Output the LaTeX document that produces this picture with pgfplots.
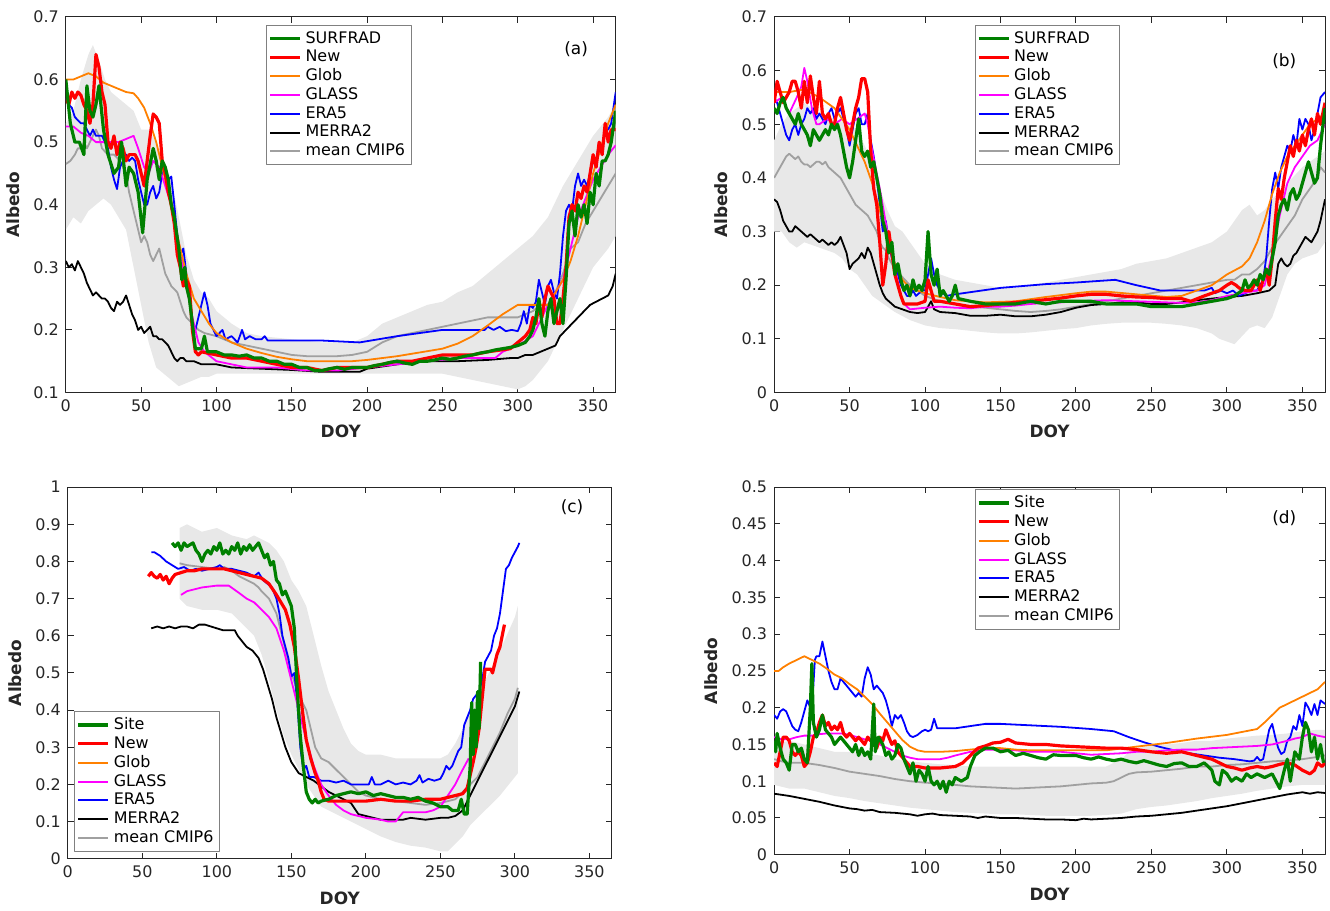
\documentclass[border=0pt]{standalone}
\usepackage{fontspec}
\setmainfont{DejaVu Sans}
\usepackage{pgfplots}
\pgfplotsset{compat=1.18}

\definecolor{cSite}{HTML}{008000}
\definecolor{cNew}{HTML}{FF0000}
\definecolor{cGlob}{HTML}{FF8000}
\definecolor{cGlass}{HTML}{FF00FF}
\definecolor{cEra}{HTML}{0000FF}
\definecolor{cMerra}{HTML}{000000}
\definecolor{cCmip}{HTML}{A0A0A0}
\definecolor{cBand}{HTML}{E8E8E8}
\definecolor{axcol}{HTML}{262626}

% one legend row: colour, line width, text
\newcommand{\legline}[3]{%
  \addlegendimage{legend image code/.code={\draw[color=#1, line width=#2] (0pt,0pt) -- (15pt,0pt);}}%
  \addlegendentry{#3}}
\newcommand{\legall}[1]{%
  \legline{cSite}{1.6pt}{#1}
  \legline{cNew}{1.6pt}{New}
  \legline{cGlob}{1pt}{Glob}
  \legline{cGlass}{1pt}{GLASS}
  \legline{cEra}{1pt}{ERA5}
  \legline{cMerra}{1pt}{MERRA2}
  \legline{cCmip}{1pt}{mean CMIP6}}

\pgfplotsset{
  pSite/.style={color=cSite, line width=1.6pt},
  pNew/.style={color=cNew, line width=1.6pt},
  pGlob/.style={color=cGlob, line width=0.9pt},
  pGlass/.style={color=cGlass, line width=0.9pt},
  pEra/.style={color=cEra, line width=0.9pt},
  pMerra/.style={color=cMerra, line width=0.9pt},
  pCmip/.style={color=cCmip, line width=0.9pt},
  band/.style={fill=cBand, draw=none, forget plot},
  albedo/.style={
    scale only axis,
    xmin=0, xmax=365,
    xtick={0,50,100,150,200,250,300,350},
    xticklabels={0,50,100,150,200,250,300,350},
    scaled ticks=false,
    tick align=inside,
    major tick length=3pt,
    xlabel={DOY}, ylabel={Albedo},
    axis line style={color=axcol, line width=0.5pt},
    tick style={color=axcol, line width=0.5pt},
    ticklabel style={font=\fontsize{8}{9}\selectfont, color=axcol},
    label style={font=\bfseries\fontsize{8.5}{10}\selectfont, color=axcol},
    legend cell align=left,
    legend style={font=\fontsize{8}{9}\selectfont, draw=gray, fill=white,
      line width=0.5pt, inner sep=1pt, row sep=-2pt},
    no markers, line join=round,
  },
}

\begin{document}
\begin{tikzpicture}

% ---------------- (a)
\begin{axis}[albedo, at={(30.5pt,257pt)}, anchor=south west,
  width=276pt, height=188.5pt, ymin=0.1, ymax=0.7,
  ytick={0.1,0.2,0.3,0.4,0.5,0.6,0.7},
  yticklabels={0.1,0.2,0.3,0.4,0.5,0.6,0.7},
  legend style={at={(rel axis cs:0.364,0.979)}, anchor=north west}]
\legall{SURFRAD}
\addplot[band] coordinates {(0,0.53)(5,0.55)(10,0.60)(15,0.64)(18,0.655)(22,0.63)(26,0.60)(30,0.58)(40,0.56)(45,0.55)(50,0.52)(55,0.52)(60,0.50)(65,0.47)(70,0.44)(75,0.38)(80,0.32)(85,0.28)(90,0.26)(95,0.25)(100,0.23)(110,0.21)(120,0.195)(130,0.19)(150,0.185)(170,0.18)(190,0.18)(200,0.19)(210,0.21)(220,0.22)(230,0.23)(240,0.24)(250,0.245)(260,0.26)(270,0.27)(280,0.29)(290,0.31)(300,0.33)(310,0.35)(320,0.38)(330,0.43)(340,0.47)(350,0.51)(360,0.54)(365,0.56)
 (365,0.35)(360,0.33)(350,0.30)(340,0.25)(330,0.20)(320,0.15)(310,0.12)(305,0.11)(300,0.105)(290,0.11)(280,0.115)(270,0.12)(250,0.13)(210,0.13)(170,0.13)(130,0.13)(100,0.13)(95,0.125)(90,0.125)(85,0.12)(80,0.115)(75,0.11)(70,0.12)(65,0.13)(60,0.14)(55,0.18)(50,0.24)(45,0.30)(40,0.36)(35,0.38)(30,0.40)(25,0.41)(20,0.40)(15,0.39)(10,0.37)(5,0.38)(0,0.36)} -- cycle;
\addplot[pCmip, forget plot] coordinates {(0,0.465)(3,0.47)(6,0.48)(8,0.49)(10,0.49)(12,0.50)(14,0.49)(16,0.50)(18,0.51)(20,0.52)(22,0.51)(24,0.49)(28,0.48)(32,0.48)(36,0.47)(40,0.45)(42,0.42)(44,0.40)(46,0.38)(48,0.36)(50,0.34)(52,0.35)(54,0.34)(56,0.32)(58,0.31)(60,0.32)(62,0.33)(64,0.31)(66,0.29)(68,0.28)(70,0.27)(74,0.26)(76,0.245)(78,0.23)(80,0.22)(84,0.21)(88,0.20)(92,0.195)(100,0.19)(110,0.18)(120,0.175)(130,0.17)(140,0.165)(150,0.16)(160,0.158)(170,0.158)(180,0.158)(190,0.16)(200,0.165)(210,0.18)(220,0.19)(230,0.195)(240,0.20)(250,0.205)(260,0.21)(270,0.215)(280,0.22)(290,0.22)(300,0.22)(305,0.225)(310,0.23)(315,0.24)(320,0.24)(325,0.26)(330,0.29)(335,0.33)(340,0.34)(345,0.37)(350,0.39)(355,0.41)(360,0.43)(365,0.45)};
\addplot[pMerra, forget plot] coordinates {(0,0.31)(2,0.30)(4,0.305)(6,0.295)(8,0.31)(10,0.30)(12,0.29)(14,0.275)(16,0.265)(18,0.255)(20,0.26)(22,0.255)(24,0.25)(26,0.25)(28,0.245)(30,0.235)(32,0.23)(34,0.245)(36,0.24)(38,0.245)(40,0.255)(42,0.24)(44,0.225)(46,0.215)(48,0.20)(50,0.205)(52,0.195)(54,0.20)(56,0.205)(58,0.19)(60,0.19)(62,0.185)(64,0.185)(66,0.18)(68,0.175)(70,0.165)(72,0.155)(74,0.15)(76,0.155)(78,0.155)(80,0.15)(85,0.15)(90,0.145)(100,0.145)(110,0.14)(130,0.138)(150,0.136)(170,0.133)(195,0.133)(200,0.138)(220,0.145)(240,0.15)(260,0.15)(280,0.152)(295,0.155)(300,0.155)(305,0.16)(310,0.16)(315,0.165)(320,0.17)(325,0.175)(328,0.19)(332,0.20)(336,0.21)(340,0.22)(344,0.23)(348,0.24)(352,0.245)(356,0.25)(360,0.255)(363,0.27)(365,0.29)};
\addplot[pEra, forget plot] coordinates {(0,0.57)(2,0.56)(4,0.555)(6,0.54)(8,0.535)(10,0.53)(12,0.53)(14,0.52)(16,0.51)(18,0.52)(20,0.51)(22,0.51)(24,0.51)(26,0.50)(28,0.49)(30,0.46)(32,0.44)(34,0.425)(36,0.46)(38,0.47)(40,0.48)(42,0.47)(44,0.475)(46,0.47)(48,0.44)(50,0.42)(52,0.40)(54,0.40)(56,0.42)(58,0.43)(60,0.41)(62,0.42)(64,0.45)(66,0.46)(68,0.44)(70,0.445)(72,0.40)(74,0.35)(76,0.32)(78,0.33)(80,0.29)(82,0.26)(84,0.21)(86,0.20)(88,0.22)(90,0.24)(92,0.26)(94,0.24)(96,0.21)(98,0.20)(100,0.19)(104,0.20)(106,0.185)(110,0.19)(114,0.18)(117,0.20)(119,0.185)(122,0.19)(126,0.185)(130,0.185)(132,0.19)(134,0.183)(150,0.183)(170,0.183)(195,0.18)(220,0.19)(250,0.20)(260,0.20)(278,0.20)(280,0.205)(284,0.20)(288,0.205)(292,0.198)(296,0.20)(300,0.198)(302,0.21)(304,0.23)(306,0.21)(308,0.24)(310,0.235)(312,0.245)(314,0.28)(316,0.26)(318,0.24)(320,0.27)(322,0.28)(324,0.26)(326,0.25)(328,0.29)(330,0.35)(332,0.39)(334,0.40)(336,0.39)(338,0.43)(340,0.45)(342,0.43)(344,0.44)(346,0.43)(348,0.45)(350,0.47)(352,0.47)(354,0.50)(356,0.49)(358,0.52)(360,0.52)(362,0.53)(365,0.58)};
\addplot[pGlass, forget plot] coordinates {(0,0.525)(5,0.525)(10,0.515)(15,0.51)(20,0.50)(25,0.50)(30,0.50)(35,0.50)(40,0.505)(45,0.51)(48,0.49)(52,0.46)(55,0.45)(58,0.47)(62,0.46)(66,0.43)(70,0.40)(75,0.34)(80,0.27)(84,0.22)(88,0.18)(92,0.165)(100,0.15)(110,0.145)(120,0.14)(140,0.14)(160,0.135)(180,0.135)(200,0.14)(220,0.145)(240,0.15)(260,0.155)(285,0.155)(290,0.165)(300,0.175)(310,0.19)(320,0.24)(330,0.28)(335,0.33)(340,0.38)(345,0.41)(350,0.44)(355,0.46)(360,0.48)(365,0.495)};
\addplot[pGlob, forget plot] coordinates {(0,0.60)(5,0.60)(10,0.605)(15,0.61)(20,0.605)(25,0.595)(30,0.59)(35,0.585)(40,0.58)(45,0.578)(48,0.57)(52,0.555)(56,0.53)(60,0.50)(64,0.46)(68,0.42)(72,0.37)(76,0.33)(80,0.29)(85,0.25)(90,0.23)(95,0.21)(100,0.195)(110,0.18)(120,0.17)(130,0.163)(140,0.157)(150,0.153)(160,0.15)(190,0.15)(200,0.152)(210,0.155)(220,0.158)(230,0.162)(240,0.166)(250,0.17)(260,0.178)(270,0.19)(280,0.207)(290,0.225)(300,0.24)(320,0.24)(325,0.26)(330,0.28)(335,0.31)(340,0.35)(345,0.40)(350,0.45)(355,0.49)(360,0.53)(365,0.56)};
\addplot[pNew, forget plot] coordinates {(0,0.57)(2,0.56)(4,0.58)(6,0.57)(8,0.58)(10,0.575)(12,0.56)(14,0.55)(16,0.53)(18,0.56)(20,0.64)(22,0.62)(24,0.58)(26,0.56)(28,0.50)(30,0.49)(32,0.51)(34,0.48)(36,0.50)(38,0.49)(40,0.47)(42,0.48)(44,0.48)(46,0.48)(48,0.47)(50,0.45)(52,0.43)(54,0.47)(56,0.51)(58,0.545)(60,0.54)(62,0.53)(64,0.47)(66,0.45)(68,0.42)(70,0.40)(72,0.37)(74,0.32)(76,0.30)(78,0.27)(80,0.28)(82,0.27)(84,0.20)(86,0.165)(88,0.16)(90,0.165)(100,0.16)(110,0.155)(120,0.155)(130,0.15)(140,0.145)(150,0.14)(160,0.14)(170,0.135)(180,0.14)(200,0.14)(210,0.145)(220,0.15)(230,0.15)(240,0.155)(250,0.16)(270,0.16)(280,0.165)(295,0.17)(300,0.18)(305,0.19)(308,0.20)(310,0.22)(312,0.21)(314,0.24)(316,0.22)(318,0.25)(320,0.27)(322,0.26)(324,0.25)(326,0.21)(328,0.21)(330,0.25)(332,0.30)(334,0.38)(336,0.40)(338,0.39)(340,0.42)(342,0.41)(344,0.43)(346,0.42)(348,0.45)(350,0.48)(352,0.46)(354,0.50)(356,0.48)(358,0.53)(360,0.50)(362,0.52)(365,0.52)};
\addplot[pSite, forget plot] coordinates {(0,0.60)(3,0.53)(6,0.50)(9,0.50)(12,0.48)(14,0.59)(16,0.55)(18,0.54)(20,0.56)(22,0.59)(25,0.52)(28,0.48)(32,0.45)(35,0.46)(37,0.50)(40,0.43)(42,0.46)(45,0.45)(48,0.42)(51,0.355)(54,0.44)(58,0.49)(60,0.47)(62,0.44)(64,0.47)(66,0.46)(68,0.44)(70,0.40)(72,0.38)(75,0.33)(77,0.28)(79,0.30)(80,0.27)(82,0.25)(84,0.21)(86,0.17)(88,0.17)(90,0.17)(92,0.19)(94,0.165)(100,0.165)(105,0.16)(110,0.16)(115,0.158)(120,0.16)(125,0.155)(130,0.155)(135,0.15)(140,0.15)(145,0.145)(150,0.145)(155,0.14)(160,0.14)(165,0.135)(170,0.135)(175,0.138)(180,0.14)(185,0.137)(190,0.14)(200,0.14)(205,0.143)(210,0.145)(215,0.148)(220,0.15)(225,0.147)(230,0.145)(235,0.15)(240,0.15)(245,0.152)(250,0.155)(255,0.153)(260,0.155)(265,0.158)(270,0.16)(275,0.163)(280,0.165)(285,0.168)(290,0.17)(295,0.172)(300,0.175)(305,0.18)(308,0.19)(310,0.20)(312,0.22)(314,0.25)(316,0.21)(318,0.19)(320,0.23)(322,0.25)(324,0.21)(326,0.23)(328,0.25)(330,0.21)(332,0.28)(334,0.37)(336,0.39)(338,0.35)(340,0.40)(342,0.38)(344,0.40)(346,0.37)(348,0.42)(350,0.40)(352,0.45)(354,0.43)(356,0.47)(358,0.47)(360,0.48)(362,0.50)(365,0.55)};
\node[font=\fontsize{8.5}{10}\selectfont] at (rel axis cs:0.928,0.915) {(a)};
\end{axis}

% ---------------- (b)
\begin{axis}[albedo, at={(386pt,257pt)}, anchor=south west,
  width=276.5pt, height=188.5pt, ymin=0, ymax=0.7,
  ytick={0,0.1,0.2,0.3,0.4,0.5,0.6,0.7},
  yticklabels={0,0.1,0.2,0.3,0.4,0.5,0.6,0.7},
  legend style={at={(rel axis cs:0.364,0.979)}, anchor=north west}]
\legall{SURFRAD}
\addplot[band] coordinates {(0,0.47)(5,0.50)(10,0.52)(15,0.53)(20,0.54)(30,0.52)(40,0.51)(50,0.50)(55,0.49)(60,0.46)(65,0.43)(70,0.38)(75,0.34)(80,0.31)(85,0.30)(90,0.28)(95,0.26)(100,0.24)(110,0.22)(120,0.21)(130,0.205)(140,0.20)(150,0.195)(160,0.195)(170,0.20)(180,0.205)(190,0.21)(200,0.215)(210,0.22)(220,0.225)(230,0.23)(240,0.24)(250,0.245)(260,0.25)(270,0.26)(280,0.27)(290,0.28)(300,0.30)(305,0.32)(310,0.34)(315,0.35)(320,0.33)(325,0.34)(330,0.36)(340,0.39)(350,0.42)(360,0.44)(365,0.45)
 (365,0.28)(360,0.26)(350,0.25)(345,0.24)(340,0.22)(335,0.18)(330,0.14)(325,0.12)(320,0.125)(315,0.12)(310,0.105)(305,0.09)(300,0.095)(295,0.10)(290,0.11)(280,0.12)(270,0.125)(260,0.128)(250,0.13)(230,0.13)(220,0.128)(210,0.125)(200,0.12)(190,0.118)(180,0.115)(170,0.112)(160,0.11)(150,0.11)(140,0.112)(130,0.115)(120,0.118)(110,0.12)(100,0.125)(90,0.135)(80,0.15)(75,0.16)(70,0.17)(65,0.18)(60,0.20)(55,0.22)(50,0.23)(45,0.25)(40,0.26)(30,0.27)(20,0.28)(15,0.27)(10,0.28)(5,0.30)(0,0.30)} -- cycle;
\addplot[pCmip, forget plot] coordinates {(0,0.40)(2,0.41)(4,0.42)(6,0.43)(8,0.44)(10,0.445)(12,0.44)(14,0.435)(16,0.44)(18,0.43)(20,0.425)(22,0.425)(24,0.42)(26,0.425)(28,0.43)(30,0.43)(32,0.425)(34,0.43)(36,0.42)(38,0.415)(40,0.41)(42,0.405)(44,0.40)(46,0.39)(48,0.38)(50,0.37)(52,0.36)(54,0.35)(56,0.345)(58,0.34)(60,0.335)(62,0.33)(64,0.32)(66,0.31)(68,0.30)(70,0.28)(72,0.27)(74,0.265)(76,0.25)(78,0.24)(80,0.23)(85,0.215)(90,0.20)(95,0.19)(100,0.18)(110,0.17)(120,0.165)(130,0.16)(140,0.158)(150,0.155)(160,0.152)(170,0.15)(180,0.152)(190,0.155)(200,0.16)(210,0.165)(220,0.17)(230,0.175)(240,0.18)(250,0.185)(260,0.19)(270,0.195)(280,0.20)(290,0.205)(300,0.21)(305,0.21)(310,0.22)(315,0.22)(320,0.23)(325,0.245)(330,0.27)(335,0.29)(340,0.31)(345,0.33)(350,0.36)(355,0.38)(360,0.40)(362,0.42)(365,0.41)};
\addplot[pMerra, forget plot] coordinates {(0,0.36)(2,0.355)(4,0.34)(6,0.32)(8,0.31)(10,0.30)(12,0.30)(14,0.31)(16,0.305)(18,0.30)(20,0.295)(22,0.29)(24,0.295)(26,0.29)(28,0.285)(30,0.28)(32,0.285)(34,0.28)(36,0.275)(38,0.28)(40,0.275)(42,0.28)(44,0.29)(46,0.275)(48,0.26)(50,0.23)(52,0.24)(54,0.245)(56,0.25)(58,0.26)(60,0.25)(62,0.27)(64,0.26)(66,0.24)(68,0.22)(70,0.20)(72,0.185)(74,0.175)(76,0.17)(78,0.165)(80,0.16)(85,0.155)(90,0.15)(95,0.148)(100,0.15)(102,0.16)(104,0.17)(106,0.155)(110,0.15)(120,0.148)(130,0.143)(140,0.143)(150,0.145)(160,0.142)(170,0.142)(180,0.145)(190,0.15)(200,0.158)(210,0.163)(220,0.165)(230,0.168)(240,0.168)(250,0.165)(260,0.165)(270,0.168)(280,0.172)(290,0.175)(300,0.178)(310,0.18)(320,0.185)(328,0.19)(332,0.20)(334,0.24)(336,0.25)(338,0.24)(340,0.235)(342,0.24)(344,0.255)(346,0.26)(348,0.27)(350,0.28)(352,0.29)(354,0.285)(356,0.28)(358,0.29)(360,0.30)(362,0.32)(365,0.36)};
\addplot[pEra, forget plot] coordinates {(0,0.55)(2,0.54)(4,0.52)(6,0.50)(8,0.48)(10,0.47)(12,0.49)(14,0.50)(16,0.48)(18,0.50)(20,0.51)(22,0.53)(24,0.52)(26,0.53)(28,0.51)(30,0.52)(32,0.51)(34,0.50)(36,0.52)(38,0.53)(40,0.51)(42,0.52)(44,0.53)(46,0.51)(48,0.49)(50,0.46)(52,0.49)(54,0.52)(56,0.53)(58,0.50)(60,0.50)(62,0.52)(64,0.47)(66,0.44)(68,0.40)(70,0.35)(72,0.30)(74,0.32)(76,0.28)(78,0.25)(80,0.24)(82,0.22)(84,0.20)(86,0.19)(88,0.18)(90,0.18)(92,0.19)(94,0.18)(96,0.185)(98,0.19)(100,0.19)(102,0.22)(104,0.25)(106,0.22)(108,0.20)(110,0.19)(114,0.18)(120,0.183)(150,0.195)(180,0.202)(200,0.205)(226,0.21)(240,0.20)(256,0.19)(270,0.19)(285,0.19)(290,0.195)(292,0.185)(296,0.19)(300,0.185)(304,0.19)(308,0.18)(312,0.185)(316,0.19)(320,0.19)(324,0.21)(326,0.25)(328,0.32)(330,0.38)(332,0.41)(334,0.38)(336,0.42)(338,0.44)(340,0.46)(342,0.45)(344,0.48)(346,0.46)(348,0.51)(350,0.49)(352,0.51)(354,0.50)(356,0.47)(358,0.49)(360,0.52)(362,0.55)(365,0.56)};
\addplot[pGlass, forget plot] coordinates {(0,0.54)(5,0.55)(10,0.52)(15,0.55)(18,0.57)(20,0.605)(22,0.58)(25,0.53)(28,0.50)(30,0.50)(35,0.51)(40,0.50)(45,0.51)(50,0.50)(55,0.51)(60,0.52)(62,0.50)(65,0.45)(70,0.38)(75,0.30)(80,0.23)(85,0.17)(88,0.16)(90,0.155)(100,0.158)(110,0.16)(120,0.158)(130,0.157)(140,0.16)(150,0.16)(160,0.162)(170,0.165)(180,0.167)(190,0.168)(200,0.17)(220,0.172)(240,0.17)(260,0.168)(270,0.167)(280,0.168)(290,0.172)(300,0.18)(310,0.185)(320,0.19)(325,0.20)(330,0.26)(335,0.33)(340,0.39)(345,0.42)(350,0.44)(355,0.46)(360,0.47)(365,0.50)};
\addplot[pGlob, forget plot] coordinates {(0,0.56)(10,0.56)(20,0.565)(30,0.55)(40,0.53)(45,0.51)(50,0.49)(55,0.46)(60,0.43)(65,0.39)(70,0.34)(75,0.29)(80,0.24)(85,0.21)(90,0.195)(95,0.19)(100,0.185)(110,0.178)(120,0.172)(140,0.168)(160,0.17)(180,0.178)(200,0.185)(210,0.188)(220,0.188)(240,0.183)(260,0.178)(270,0.18)(280,0.19)(290,0.20)(300,0.22)(310,0.235)(315,0.25)(320,0.28)(325,0.32)(330,0.37)(335,0.41)(340,0.44)(345,0.46)(350,0.48)(355,0.50)(360,0.51)(365,0.52)};
\addplot[pNew, forget plot] coordinates {(0,0.54)(2,0.58)(4,0.56)(6,0.54)(8,0.55)(10,0.56)(12,0.58)(14,0.58)(16,0.56)(18,0.53)(20,0.58)(22,0.54)(24,0.59)(26,0.55)(28,0.52)(30,0.58)(32,0.52)(34,0.51)(36,0.52)(38,0.50)(40,0.50)(42,0.53)(44,0.55)(46,0.52)(48,0.49)(50,0.47)(52,0.50)(54,0.53)(56,0.55)(58,0.585)(60,0.585)(62,0.56)(64,0.45)(66,0.38)(68,0.35)(70,0.28)(72,0.20)(74,0.24)(76,0.30)(78,0.26)(80,0.22)(82,0.20)(84,0.18)(86,0.165)(95,0.165)(100,0.17)(102,0.21)(104,0.19)(106,0.17)(110,0.17)(120,0.165)(130,0.16)(140,0.162)(150,0.165)(160,0.168)(170,0.17)(180,0.173)(190,0.176)(200,0.18)(210,0.183)(220,0.183)(230,0.18)(240,0.178)(250,0.177)(260,0.175)(270,0.175)(276,0.17)(285,0.18)(295,0.19)(300,0.20)(303,0.205)(306,0.20)(308,0.195)(312,0.19)(316,0.19)(318,0.20)(320,0.21)(322,0.19)(324,0.21)(326,0.23)(328,0.20)(330,0.25)(332,0.32)(334,0.38)(336,0.36)(338,0.40)(340,0.43)(342,0.46)(344,0.44)(346,0.47)(348,0.45)(350,0.48)(352,0.46)(354,0.49)(356,0.51)(358,0.48)(360,0.52)(362,0.50)(365,0.54)};
\addplot[pSite, forget plot] coordinates {(0,0.53)(2,0.52)(4,0.54)(6,0.55)(8,0.53)(10,0.52)(12,0.51)(14,0.50)(16,0.52)(18,0.50)(20,0.49)(22,0.48)(24,0.46)(26,0.49)(28,0.48)(30,0.47)(32,0.48)(34,0.49)(36,0.48)(38,0.50)(40,0.49)(42,0.50)(44,0.48)(46,0.45)(48,0.42)(50,0.40)(52,0.43)(54,0.47)(56,0.51)(58,0.45)(60,0.44)(62,0.45)(64,0.42)(66,0.43)(68,0.40)(70,0.37)(72,0.32)(74,0.30)(76,0.26)(78,0.28)(80,0.22)(82,0.24)(84,0.21)(86,0.19)(88,0.20)(90,0.18)(92,0.21)(94,0.19)(96,0.20)(98,0.19)(100,0.21)(102,0.30)(104,0.22)(106,0.20)(108,0.23)(110,0.18)(112,0.19)(114,0.18)(116,0.17)(118,0.18)(120,0.20)(122,0.175)(130,0.17)(140,0.165)(150,0.165)(160,0.165)(170,0.17)(180,0.165)(190,0.17)(200,0.17)(210,0.17)(220,0.165)(240,0.165)(250,0.16)(270,0.16)(280,0.165)(290,0.17)(300,0.175)(305,0.18)(310,0.19)(312,0.21)(314,0.195)(316,0.20)(318,0.21)(320,0.20)(322,0.22)(324,0.21)(326,0.23)(328,0.22)(330,0.25)(332,0.28)(334,0.33)(336,0.35)(338,0.36)(340,0.34)(342,0.37)(344,0.38)(346,0.36)(348,0.37)(350,0.39)(352,0.41)(354,0.43)(356,0.41)(358,0.39)(360,0.40)(362,0.46)(365,0.53)};
\node[font=\fontsize{8.5}{10}\selectfont] at (rel axis cs:0.926,0.883) {(b)};
\end{axis}

% ---------------- (c)
\begin{axis}[albedo, at={(31.5pt,23pt)}, anchor=south west,
  width=273pt, height=186.5pt, ymin=0, ymax=1,
  ytick={0,0.1,0.2,0.3,0.4,0.5,0.6,0.7,0.8,0.9,1},
  yticklabels={0,0.1,0.2,0.3,0.4,0.5,0.6,0.7,0.8,0.9,1},
  legend style={at={(rel axis cs:0.012,0.019)}, anchor=south west}]
\legall{Site}
\addplot[band] coordinates {(75,0.89)(80,0.90)(90,0.88)(100,0.89)(110,0.87)(120,0.86)(125,0.87)(130,0.86)(135,0.85)(140,0.83)(145,0.80)(150,0.75)(155,0.72)(160,0.68)(165,0.60)(170,0.52)(175,0.45)(180,0.40)(185,0.35)(190,0.31)(195,0.29)(200,0.28)(210,0.28)(220,0.27)(250,0.27)(255,0.28)(260,0.31)(265,0.35)(270,0.40)(280,0.48)(290,0.56)(300,0.65)(302,0.68)
 (302,0.23)(300,0.22)(290,0.17)(280,0.13)(270,0.09)(265,0.06)(260,0.04)(255,0.02)(250,0.02)(240,0.03)(230,0.035)(220,0.045)(210,0.06)(200,0.08)(190,0.10)(180,0.12)(175,0.13)(170,0.14)(165,0.17)(160,0.20)(155,0.24)(150,0.28)(145,0.33)(140,0.40)(135,0.48)(130,0.55)(125,0.60)(120,0.62)(115,0.64)(110,0.66)(100,0.67)(90,0.67)(80,0.68)(75,0.70)} -- cycle;
\addplot[pCmip, forget plot] coordinates {(75,0.795)(80,0.79)(90,0.785)(100,0.78)(105,0.785)(110,0.775)(115,0.76)(120,0.75)(125,0.74)(128,0.73)(130,0.72)(135,0.70)(140,0.66)(145,0.58)(150,0.50)(155,0.44)(160,0.40)(163,0.35)(166,0.30)(170,0.27)(175,0.26)(180,0.24)(185,0.22)(190,0.20)(195,0.18)(200,0.17)(210,0.16)(220,0.155)(230,0.15)(240,0.145)(250,0.15)(260,0.16)(265,0.18)(270,0.20)(275,0.22)(280,0.26)(285,0.30)(290,0.34)(295,0.39)(300,0.43)(302,0.46)};
\addplot[pMerra, forget plot] coordinates {(56,0.62)(60,0.625)(64,0.62)(68,0.625)(72,0.62)(76,0.625)(80,0.625)(84,0.62)(88,0.63)(92,0.63)(96,0.625)(100,0.62)(104,0.615)(108,0.615)(112,0.615)(114,0.60)(116,0.59)(118,0.58)(120,0.57)(124,0.56)(128,0.54)(131,0.51)(134,0.47)(137,0.43)(140,0.38)(143,0.34)(146,0.30)(150,0.26)(155,0.23)(160,0.22)(165,0.21)(170,0.195)(175,0.18)(180,0.17)(185,0.16)(190,0.15)(195,0.12)(200,0.115)(205,0.11)(210,0.105)(225,0.105)(230,0.11)(240,0.105)(250,0.11)(255,0.11)(260,0.115)(265,0.13)(270,0.17)(275,0.21)(280,0.25)(285,0.29)(290,0.33)(295,0.37)(300,0.41)(303,0.45)};
\addplot[pEra, forget plot] coordinates {(56,0.825)(58,0.825)(62,0.815)(66,0.80)(70,0.79)(74,0.78)(78,0.785)(82,0.775)(86,0.78)(90,0.775)(95,0.78)(100,0.785)(102,0.79)(105,0.78)(110,0.78)(115,0.775)(120,0.77)(125,0.76)(128,0.77)(131,0.75)(134,0.74)(137,0.73)(140,0.70)(142,0.66)(144,0.60)(146,0.57)(148,0.54)(150,0.49)(152,0.50)(154,0.42)(156,0.30)(158,0.24)(160,0.25)(162,0.22)(165,0.22)(170,0.21)(175,0.21)(180,0.205)(185,0.21)(190,0.20)(202,0.20)(204,0.22)(206,0.20)(210,0.20)(215,0.21)(220,0.20)(225,0.205)(230,0.20)(234,0.21)(236,0.225)(238,0.205)(242,0.215)(246,0.21)(250,0.215)(252,0.23)(254,0.25)(256,0.24)(258,0.25)(260,0.27)(262,0.29)(264,0.30)(266,0.36)(268,0.38)(270,0.40)(272,0.43)(274,0.44)(276,0.45)(278,0.48)(280,0.53)(282,0.545)(284,0.56)(286,0.60)(288,0.62)(290,0.66)(292,0.72)(294,0.78)(296,0.79)(298,0.81)(300,0.825)(302,0.84)(303,0.85)};
\addplot[pGlass, forget plot] coordinates {(76,0.71)(80,0.72)(90,0.73)(100,0.735)(108,0.735)(115,0.715)(120,0.70)(125,0.69)(130,0.67)(135,0.65)(140,0.62)(145,0.56)(150,0.48)(155,0.40)(160,0.32)(165,0.25)(170,0.20)(175,0.17)(180,0.145)(185,0.13)(190,0.12)(200,0.11)(210,0.105)(215,0.10)(220,0.10)(225,0.125)(240,0.125)(245,0.13)(250,0.14)(255,0.17)(260,0.20)(265,0.24)(269,0.27)};
\addplot[pNew, forget plot] coordinates {(54,0.76)(56,0.77)(58,0.76)(60,0.755)(62,0.765)(64,0.75)(66,0.76)(68,0.74)(70,0.755)(72,0.765)(76,0.77)(80,0.775)(85,0.775)(90,0.78)(105,0.78)(110,0.775)(115,0.77)(120,0.765)(125,0.76)(130,0.755)(135,0.74)(140,0.71)(143,0.69)(146,0.67)(149,0.63)(152,0.57)(155,0.48)(158,0.38)(160,0.32)(163,0.27)(166,0.23)(168,0.21)(170,0.18)(172,0.16)(175,0.155)(200,0.155)(210,0.16)(220,0.155)(230,0.155)(240,0.16)(250,0.16)(255,0.165)(260,0.17)(265,0.175)(268,0.19)(272,0.26)(274,0.30)(276,0.35)(278,0.43)(280,0.51)(284,0.51)(285,0.50)(288,0.55)(290,0.57)(293,0.63)};
\addplot[pSite, forget plot] coordinates {(70,0.85)(72,0.84)(74,0.85)(76,0.83)(78,0.85)(80,0.84)(82,0.845)(84,0.85)(86,0.83)(88,0.82)(90,0.80)(92,0.82)(94,0.83)(96,0.82)(98,0.84)(100,0.83)(102,0.85)(104,0.82)(106,0.83)(108,0.82)(110,0.84)(112,0.83)(114,0.85)(116,0.82)(118,0.84)(120,0.83)(122,0.845)(124,0.83)(126,0.84)(128,0.85)(130,0.83)(132,0.81)(134,0.82)(136,0.79)(138,0.80)(140,0.75)(142,0.74)(144,0.71)(146,0.72)(148,0.70)(150,0.68)(152,0.62)(154,0.45)(156,0.33)(158,0.25)(160,0.18)(162,0.16)(164,0.15)(166,0.16)(168,0.15)(170,0.155)(175,0.16)(180,0.17)(185,0.175)(190,0.18)(195,0.175)(200,0.18)(205,0.17)(210,0.175)(215,0.17)(220,0.165)(225,0.165)(230,0.16)(235,0.165)(240,0.155)(245,0.15)(250,0.14)(255,0.14)(258,0.13)(262,0.13)(264,0.16)(266,0.12)(268,0.12)(270,0.25)(271,0.42)(272,0.28)(273,0.40)(274,0.30)(275,0.45)(276,0.35)(277,0.53)};
\node[font=\fontsize{8.5}{10}\selectfont] at (rel axis cs:0.927,0.946) {(c)};
\end{axis}

% ---------------- (d)
\begin{axis}[albedo, at={(386pt,25pt)}, anchor=south west,
  width=276.5pt, height=184.5pt, ymin=0, ymax=0.5,
  ytick={0,0.05,0.1,0.15,0.2,0.25,0.3,0.35,0.4,0.45,0.5},
  yticklabels={0,0.05,0.1,0.15,0.2,0.25,0.3,0.35,0.4,0.45,0.5},
  legend style={at={(rel axis cs:0.364,0.995)}, anchor=north west}]
\legall{Site}
\addplot[band] coordinates {(0,0.15)(10,0.155)(20,0.15)(30,0.145)(40,0.14)(50,0.14)(60,0.138)(70,0.135)(80,0.13)(90,0.127)(100,0.125)(110,0.123)(120,0.122)(130,0.12)(220,0.12)(230,0.13)(235,0.14)(240,0.145)(250,0.148)(260,0.15)(270,0.152)(280,0.155)(290,0.155)(300,0.158)(310,0.16)(320,0.162)(330,0.163)(340,0.165)(350,0.168)(360,0.17)(365,0.17)
 (365,0.095)(350,0.095)(340,0.093)(330,0.09)(320,0.087)(310,0.083)(300,0.08)(290,0.077)(280,0.073)(270,0.07)(260,0.067)(250,0.065)(240,0.062)(230,0.056)(220,0.054)(210,0.053)(180,0.053)(170,0.054)(160,0.055)(150,0.055)(140,0.056)(130,0.057)(120,0.058)(110,0.06)(100,0.062)(90,0.064)(80,0.067)(70,0.07)(60,0.073)(50,0.077)(40,0.08)(30,0.085)(20,0.09)(10,0.09)(0,0.095)} -- cycle;
\addplot[pCmip, forget plot] coordinates {(0,0.13)(5,0.127)(10,0.125)(20,0.125)(30,0.122)(40,0.118)(50,0.113)(60,0.11)(70,0.107)(80,0.103)(90,0.10)(100,0.098)(110,0.097)(120,0.095)(130,0.093)(140,0.092)(150,0.091)(160,0.09)(170,0.091)(180,0.092)(190,0.093)(200,0.095)(210,0.097)(220,0.098)(225,0.10)(230,0.105)(235,0.11)(240,0.112)(250,0.113)(260,0.115)(270,0.117)(280,0.12)(290,0.12)(300,0.122)(310,0.123)(320,0.125)(330,0.127)(340,0.128)(350,0.13)(360,0.133)(365,0.135)};
\addplot[pMerra, forget plot] coordinates {(0,0.083)(10,0.08)(20,0.076)(30,0.072)(40,0.067)(50,0.063)(55,0.062)(60,0.06)(65,0.061)(70,0.058)(80,0.057)(90,0.055)(95,0.053)(100,0.055)(105,0.056)(110,0.054)(120,0.053)(130,0.052)(135,0.05)(140,0.052)(150,0.05)(160,0.05)(170,0.049)(180,0.048)(190,0.048)(200,0.047)(205,0.049)(210,0.048)(220,0.049)(230,0.05)(240,0.052)(250,0.053)(260,0.055)(270,0.057)(280,0.06)(290,0.063)(300,0.066)(310,0.07)(320,0.074)(330,0.078)(340,0.082)(350,0.085)(355,0.083)(360,0.085)(365,0.084)};
\addplot[pEra, forget plot] coordinates {(0,0.19)(2,0.185)(4,0.195)(6,0.198)(8,0.195)(10,0.185)(12,0.175)(14,0.17)(16,0.168)(18,0.18)(20,0.195)(22,0.21)(24,0.20)(26,0.23)(27,0.265)(28,0.27)(30,0.27)(32,0.29)(34,0.27)(36,0.25)(38,0.235)(40,0.225)(42,0.225)(44,0.24)(46,0.235)(48,0.23)(50,0.225)(52,0.22)(54,0.215)(56,0.22)(58,0.215)(60,0.24)(62,0.255)(64,0.245)(66,0.225)(68,0.23)(70,0.225)(72,0.22)(74,0.21)(76,0.195)(78,0.175)(80,0.19)(82,0.185)(84,0.19)(86,0.18)(88,0.168)(90,0.162)(92,0.16)(95,0.163)(98,0.168)(100,0.17)(102,0.168)(104,0.17)(106,0.185)(108,0.172)(110,0.172)(120,0.172)(130,0.175)(140,0.178)(150,0.178)(170,0.176)(190,0.174)(210,0.171)(225,0.168)(235,0.16)(245,0.153)(255,0.147)(265,0.142)(275,0.138)(285,0.135)(295,0.132)(305,0.13)(315,0.127)(318,0.128)(320,0.133)(322,0.128)(324,0.13)(326,0.15)(328,0.17)(330,0.178)(332,0.16)(334,0.145)(336,0.137)(338,0.14)(340,0.155)(342,0.16)(344,0.175)(346,0.17)(348,0.19)(350,0.175)(352,0.207)(354,0.20)(356,0.19)(358,0.205)(360,0.19)(362,0.21)(365,0.205)};
\addplot[pGlass, forget plot] coordinates {(0,0.16)(5,0.157)(10,0.157)(15,0.16)(20,0.162)(25,0.162)(30,0.164)(35,0.165)(45,0.165)(50,0.163)(55,0.16)(60,0.157)(65,0.155)(70,0.15)(75,0.145)(80,0.14)(85,0.135)(90,0.132)(95,0.13)(110,0.13)(115,0.132)(120,0.135)(130,0.14)(140,0.143)(150,0.143)(160,0.142)(170,0.14)(190,0.14)(200,0.138)(210,0.136)(220,0.137)(230,0.138)(240,0.14)(250,0.14)(260,0.142)(270,0.143)(280,0.143)(290,0.145)(300,0.146)(310,0.147)(320,0.148)(330,0.15)(340,0.155)(345,0.158)(350,0.16)(355,0.165)(360,0.162)(365,0.16)};
\addplot[pGlob, forget plot] coordinates {(0,0.25)(3,0.25)(6,0.255)(10,0.26)(15,0.265)(20,0.27)(25,0.265)(30,0.26)(35,0.253)(40,0.245)(45,0.24)(50,0.232)(55,0.225)(60,0.215)(65,0.205)(70,0.192)(75,0.18)(80,0.168)(85,0.156)(90,0.147)(95,0.142)(100,0.14)(110,0.14)(120,0.141)(130,0.143)(140,0.145)(150,0.145)(160,0.143)(170,0.142)(220,0.142)(240,0.147)(260,0.152)(280,0.158)(300,0.163)(320,0.171)(325,0.18)(330,0.19)(335,0.20)(340,0.205)(345,0.21)(350,0.215)(355,0.22)(360,0.225)(365,0.235)};
\addplot[pNew, forget plot] coordinates {(0,0.125)(2,0.12)(4,0.14)(6,0.16)(8,0.16)(10,0.155)(12,0.14)(14,0.135)(16,0.14)(18,0.135)(20,0.12)(22,0.125)(24,0.14)(26,0.16)(28,0.165)(30,0.18)(32,0.19)(34,0.175)(36,0.18)(38,0.17)(40,0.175)(42,0.17)(44,0.18)(46,0.165)(48,0.16)(50,0.165)(52,0.16)(54,0.155)(56,0.16)(58,0.155)(60,0.15)(62,0.16)(64,0.155)(66,0.15)(68,0.145)(70,0.16)(72,0.155)(74,0.17)(76,0.16)(78,0.15)(80,0.155)(82,0.14)(84,0.135)(86,0.13)(88,0.125)(90,0.12)(95,0.12)(100,0.118)(110,0.118)(120,0.12)(125,0.125)(130,0.135)(135,0.145)(140,0.148)(145,0.152)(150,0.153)(155,0.157)(160,0.152)(170,0.15)(180,0.15)(190,0.148)(200,0.147)(210,0.146)(220,0.145)(230,0.145)(240,0.143)(250,0.14)(260,0.138)(270,0.14)(280,0.135)(290,0.13)(295,0.125)(300,0.12)(305,0.118)(310,0.115)(315,0.118)(320,0.12)(325,0.118)(330,0.12)(335,0.123)(340,0.125)(345,0.122)(350,0.115)(355,0.11)(358,0.115)(360,0.125)(363,0.12)(365,0.125)};
\addplot[pSite, forget plot] coordinates {(0,0.155)(1,0.14)(2,0.165)(4,0.145)(6,0.13)(8,0.125)(10,0.115)(12,0.15)(14,0.15)(16,0.14)(18,0.145)(20,0.13)(22,0.125)(24,0.20)(25,0.26)(26,0.18)(28,0.16)(30,0.17)(32,0.19)(34,0.17)(36,0.165)(38,0.16)(40,0.15)(42,0.155)(44,0.16)(46,0.155)(48,0.15)(50,0.145)(52,0.14)(54,0.15)(56,0.135)(58,0.145)(60,0.135)(62,0.14)(64,0.13)(66,0.205)(67,0.14)(69,0.16)(72,0.15)(74,0.135)(76,0.14)(78,0.13)(80,0.135)(82,0.15)(84,0.145)(86,0.13)(88,0.12)(90,0.11)(92,0.125)(94,0.10)(96,0.115)(98,0.11)(100,0.10)(102,0.12)(104,0.10)(106,0.095)(108,0.10)(110,0.09)(112,0.10)(114,0.085)(116,0.10)(118,0.095)(120,0.105)(124,0.10)(128,0.105)(130,0.12)(133,0.135)(136,0.14)(140,0.145)(145,0.145)(150,0.14)(155,0.142)(160,0.135)(165,0.138)(170,0.135)(175,0.132)(180,0.13)(185,0.136)(190,0.135)(200,0.135)(205,0.132)(210,0.13)(215,0.133)(220,0.13)(225,0.128)(230,0.13)(235,0.127)(240,0.125)(245,0.128)(250,0.125)(255,0.122)(260,0.12)(265,0.124)(270,0.125)(275,0.12)(280,0.12)(285,0.125)(290,0.115)(292,0.10)(295,0.095)(297,0.115)(300,0.11)(303,0.10)(306,0.105)(310,0.10)(313,0.11)(316,0.105)(320,0.11)(325,0.105)(330,0.11)(335,0.09)(338,0.115)(340,0.13)(342,0.10)(345,0.14)(348,0.13)(350,0.16)(352,0.18)(354,0.17)(356,0.14)(358,0.16)(360,0.13)(362,0.15)(364,0.125)};
\node[font=\fontsize{8.5}{10}\selectfont] at (rel axis cs:0.926,0.916) {(d)};
\end{axis}
\path (0,0) rectangle (665pt,454pt);
\end{tikzpicture}
\end{document}
